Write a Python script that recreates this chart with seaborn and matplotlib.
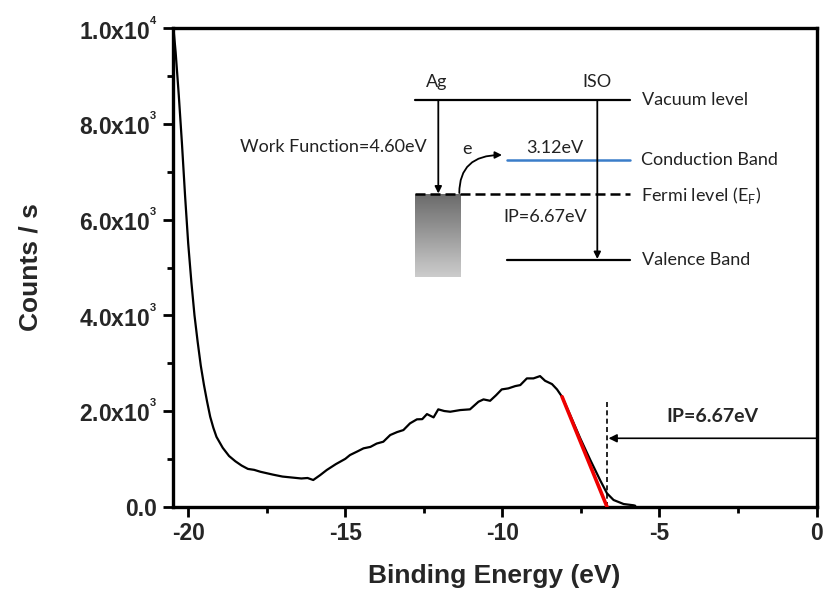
import numpy as np
import pandas as pd
import matplotlib
matplotlib.use("Agg")
import matplotlib.pyplot as plt
import seaborn as sns
from matplotlib.ticker import MultipleLocator, FixedLocator

# ---------------- data ----------------
energy = [-20.47, -20.4, -20.3, -20.2, -20.1, -20.0, -19.9, -19.8, -19.7, -19.6,
          -19.5, -19.4, -19.3, -19.2, -19.1, -18.9, -18.7, -18.5, -18.3, -18.1,
          -17.9, -17.7, -17.5, -17.3, -17.0, -16.7, -16.4, -16.2, -16.02, -15.8,
          -15.59, -15.3, -15.0, -14.85, -14.6, -14.42, -14.2, -14.0, -13.79, -13.57,
          -13.35, -13.15, -12.94, -12.72, -12.55, -12.4, -12.19, -12.04, -11.85, -11.66,
          -11.34, -11.03, -10.76, -10.6, -10.39, -10.2, -10.02, -9.81, -9.59, -9.43,
          -9.22, -9.01, -8.8, -8.64, -8.42, -8.26, -8.1, -7.84, -7.52, -7.2,
          -6.89, -6.67, -6.46, -6.14, -5.82, -5.77]
counts = [10000, 9500, 8600, 7600, 6500, 5500, 4700, 4000, 3450, 2950,
          2550, 2200, 1880, 1650, 1460, 1230, 1060, 950, 860, 790,
          770, 730, 700, 670, 630, 610, 590, 600, 558, 660,
          767, 890, 1000, 1080, 1160, 1220, 1250, 1320, 1358, 1498,
          1560, 1602, 1742, 1826, 1830, 1936, 1867, 2035, 2000, 1985,
          2020, 2035, 2194, 2243, 2214, 2330, 2452, 2473, 2521, 2542,
          2682, 2682, 2730, 2632, 2563, 2452, 2298, 1915, 1429, 976,
          558, 280, 140, 56, 29, 20]

fit_energy = [-8.1, -6.67]
fit_counts = [2300, 0]

ip_value = 6.67
work_function = 4.60
band_gap = 3.12

x_ticks = [-20, -15, -10, -5, 0]
y_ticks = [0, 2000, 4000, 6000, 8000, 10000]
y_tick_labels = ["0.0", "2.0x10$^{^{3}}$", "4.0x10$^{^{3}}$", "6.0x10$^{^{3}}$",
                 "8.0x10$^{^{3}}$", "1.0x10$^{^{4}}$"]

# ---------------- style ----------------
sns.set_style("ticks")
plt.rcParams["font.family"] = ["Liberation Sans", "DejaVu Sans"]
plt.rcParams["mathtext.fontset"] = "custom"
plt.rcParams["mathtext.rm"] = "Liberation Sans:bold"
plt.rcParams["mathtext.it"] = "Liberation Sans:bold"
plt.rcParams["mathtext.bf"] = "Liberation Sans:bold"

W, H = 823, 594
fig = plt.figure(figsize=(W / 100, H / 100), dpi=100)
L, R, T, B = 172.5, 816.5, 28.3, 506.7
ax = fig.add_axes([L / W, 1 - B / H, (R - L) / W, (B - T) / H])

df = pd.DataFrame({"energy": energy, "counts": counts})
sns.lineplot(data=df, x="energy", y="counts", color="black", lw=1.6,
             estimator=None, sort=False, ax=ax)
fit_df = pd.DataFrame({"energy": fit_energy, "counts": fit_counts})
sns.lineplot(data=fit_df, x="energy", y="counts", color="#ee0000", lw=2.6,
             estimator=None, sort=False, ax=ax, zorder=3)

ax.set_xlim(-20.5, 0)
ax.set_ylim(0, 10000)

# dashed onset line and arrow
ax.vlines(-ip_value, 0, 2250, colors="black", lw=1.2, linestyles=(0, (3, 2)))
ax.annotate("", xy=(-ip_value + 0.05, 1430), xytext=(0, 1430),
            arrowprops=dict(arrowstyle="-|>", lw=1.2, color="black",
                            mutation_scale=12, shrinkA=0, shrinkB=0))
ax.text(-3.32, 1875, f"IP={ip_value:.2f}eV", ha="center", va="center",
        fontsize=14, fontweight="bold", family=["Lato", "DejaVu Sans"])

# ticks
ax.xaxis.set_major_locator(FixedLocator(x_ticks))
ax.xaxis.set_minor_locator(MultipleLocator(2.5))
ax.yaxis.set_major_locator(FixedLocator(y_ticks))
ax.yaxis.set_minor_locator(MultipleLocator(1000))
ax.set_xticklabels([str(t) for t in x_ticks])
ax.set_yticklabels(y_tick_labels)
ax.tick_params(which="major", direction="out", length=7.5, width=2, pad=3.5,
               labelsize=16.5, color="black")
ax.tick_params(which="minor", direction="out", length=4, width=2, color="black")
for lab in ax.get_xticklabels() + ax.get_yticklabels():
    lab.set_fontweight("bold")
for sp in ax.spines.values():
    sp.set_visible(True)
    sp.set_linewidth(2.4)
    sp.set_color("black")

ax.set_xlabel("Binding Energy (eV)", fontsize=19, fontweight="bold", labelpad=14)
ax.set_ylabel("Counts / s", fontsize=19, fontweight="bold", labelpad=26)

# ---------------- energy level diagram (inset, pixel coordinates) ----------------
ax2 = fig.add_axes([200 / W, 1 - 290 / H, 600 / W, 230 / H])
ax2.axis("off")

lvl_vac, lvl_cb, lvl_ef, lvl_vb = 100, 160, 194, 260
ifont = dict(family=["Lato", "DejaVu Sans"], fontsize=13, color="#222222")

ax2.plot([415, 630], [lvl_vac, lvl_vac], color="black", lw=1.6)
ax2.plot([506.7, 630], [lvl_cb, lvl_cb], color="#3a7dc9", lw=1.8)
ax2.plot([415, 630], [lvl_ef, lvl_ef], color="black", lw=1.8, ls=(0, (4, 2)))
ax2.plot([506.7, 630], [lvl_vb, lvl_vb], color="black", lw=1.6)

grad = np.linspace(0.42, 0.8, 100).reshape(-1, 1)
ax2.imshow(grad, cmap="gray", vmin=0, vmax=1, aspect="auto",
           extent=[415, 460.7, 276.7, lvl_ef + 0.5], zorder=1)
ax2.set_xlim(200, 800)
ax2.set_ylim(290, 60)

arr = dict(arrowstyle="-|>", lw=1.3, color="black", mutation_scale=10,
           shrinkA=0, shrinkB=0)
ax2.annotate("", xy=(438.3, lvl_ef - 0.5), xytext=(438.3, lvl_vac), arrowprops=arr)
ax2.annotate("", xy=(597.3, lvl_vb - 1), xytext=(597.3, lvl_vac), arrowprops=arr)
ax2.annotate("", xy=(502, 155), xytext=(459.3, lvl_ef - 1),
             arrowprops=dict(arrowstyle="-|>", lw=1.3, color="black",
                             mutation_scale=10, shrinkA=0, shrinkB=0,
                             connectionstyle="angle3,angleA=90,angleB=0"))

ax2.text(436.7, 81.7, "Ag", ha="center", va="center", **ifont)
ax2.text(596.7, 81.7, "ISO", ha="center", va="center", **ifont)
ax2.text(427, 146.7, f"Work Function={work_function:.2f}eV", ha="right",
         va="center", **ifont)
ax2.text(466.7, 149, "e", ha="center", va="center", **ifont)
ax2.text(555, 148.3, f"{band_gap:.2f}eV", ha="center", va="center", **ifont)
ax2.text(545, 216.7, f"IP={ip_value:.2f}eV", ha="center", va="center", **ifont)
ax2.text(641.7, lvl_vac, "Vacuum level", ha="left", va="center", **ifont)
ax2.text(640.7, lvl_cb, "Conduction Band", ha="left", va="center", **ifont)
ax2.text(640.7, lvl_ef + 1, r"Fermi level (E$_{\mathregular{F}}$)", ha="left",
         va="center", **ifont)
ax2.text(641.7, lvl_vb, "Valence Band", ha="left", va="center", **ifont)

fig.savefig("out.png", dpi=100)
